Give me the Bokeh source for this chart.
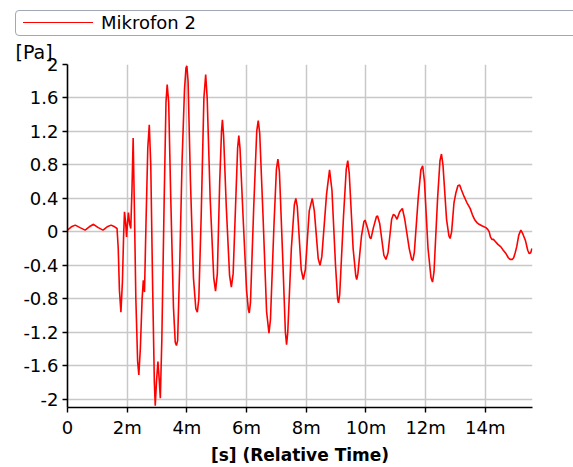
from bokeh.plotting import figure
from bokeh.layouts import column
from bokeh.models import (Range1d, FixedTicker, CustomJSTickFormatter, Div,
                          ColumnDataSource)
from bokeh.embed import file_html
from bokeh.resources import INLINE

# time in milliseconds (axis labels show "m" = milli-seconds)
time_ms = [
    0.00, 0.13, 0.26, 0.42, 0.59, 0.73, 0.87, 1.03, 1.19, 1.33, 1.46, 1.58, 1.66,
    1.70, 1.74, 1.79, 1.84, 1.88, 1.91, 1.95, 1.98, 2.01, 2.04, 2.08, 2.12, 2.16,
    2.20, 2.24, 2.29, 2.35, 2.39, 2.44, 2.50, 2.54, 2.58, 2.63, 2.69, 2.74, 2.79,
    2.85, 2.91, 2.94, 2.98, 3.03, 3.07, 3.11, 3.16, 3.24, 3.30, 3.34, 3.39, 3.46,
    3.55, 3.61, 3.65, 3.69, 3.76, 3.84, 3.92, 3.97, 4.00, 4.04, 4.12, 4.22, 4.30,
    4.35, 4.40, 4.48, 4.57, 4.63, 4.68, 4.78, 4.90, 4.96, 5.02, 5.10, 5.16, 5.19,
    5.23, 5.32, 5.43, 5.49, 5.55, 5.64, 5.70, 5.74, 5.78, 5.88, 6.00, 6.06, 6.09,
    6.13, 6.24, 6.34, 6.39, 6.44, 6.55, 6.67, 6.75, 6.80, 6.92, 7.00, 7.05, 7.10,
    7.21, 7.30, 7.34, 7.38, 7.50, 7.60, 7.65, 7.70, 7.83, 7.90, 7.97, 8.10, 8.20,
    8.27, 8.40, 8.46, 8.52, 8.68, 8.78, 8.86, 8.98, 9.05, 9.08, 9.12, 9.25, 9.34,
    9.39, 9.44, 9.57, 9.66, 9.69, 9.73, 9.85, 9.93, 9.97, 10.05, 10.13, 10.17,
    10.25, 10.35, 10.39, 10.46, 10.60, 10.67, 10.74, 10.86, 10.92, 10.98, 11.04,
    11.13, 11.22, 11.30, 11.45, 11.53, 11.57, 11.62, 11.75, 11.84, 11.90, 11.96,
    12.08, 12.18, 12.23, 12.28, 12.40, 12.48, 12.53, 12.58, 12.70, 12.78, 12.82,
    12.87, 12.95, 13.01, 13.08, 13.14, 13.20, 13.29, 13.38, 13.49, 13.57, 13.65,
    13.72, 13.79, 13.90, 14.02, 14.08, 14.13, 14.17, 14.22, 14.27, 14.32, 14.42,
    14.52, 14.60, 14.69, 14.77, 14.83, 14.90, 14.95, 15.00, 15.05, 15.12, 15.19,
    15.25, 15.34, 15.42, 15.47, 15.52, 15.56,
]
pressure_pa = [
    0.02, 0.06, 0.08, 0.05, 0.02, 0.06, 0.09, 0.05, 0.02, 0.06, 0.08, 0.06, 0.04,
    -0.20, -0.70, -0.96, -0.60, -0.05, 0.24, 0.10, -0.06, 0.10, 0.23, 0.10, 0.04, 0.50,
    1.12, 0.30, -0.80, -1.55, -1.71, -1.40, -0.80, -0.58, -0.72, 0.10, 1.00, 1.28, 0.80,
    -0.60, -1.80, -2.08, -1.80, -1.55, -1.75, -1.99, -1.30, 0.40, 1.55, 1.76, 1.55, 0.40,
    -0.90, -1.32, -1.36, -1.30, -0.40, 0.86, 1.70, 1.96, 1.98, 1.80, 0.60, -0.55, -0.92,
    -0.96, -0.80, 0.20, 1.60, 1.88, 1.60, 0.40, -0.55, -0.71, -0.50, 0.60, 1.20, 1.34,
    1.15, 0.30, -0.52, -0.66, -0.50, 0.40, 1.00, 1.15, 1.00, 0.20, -0.70, -0.93, -0.97,
    -0.85, 0.30, 1.20, 1.33, 1.18, 0.20, -0.95, -1.21, -1.05, 0.10, 0.75, 0.87, 0.72,
    -0.30, -1.20, -1.35, -1.20, -0.20, 0.32, 0.40, 0.30, -0.45, -0.57, -0.45, 0.25, 0.40,
    0.25, -0.32, -0.40, -0.30, 0.45, 0.74, 0.50, -0.40, -0.80, -0.85, -0.75, 0.20, 0.75,
    0.85, 0.70, -0.20, -0.53, -0.57, -0.50, -0.05, 0.12, 0.14, 0.05, -0.07, -0.08,
    0.05, 0.18, 0.19, 0.10, -0.28, -0.33, -0.25, 0.15, 0.21, 0.19, 0.15,
    0.24, 0.28, 0.15, -0.20, -0.33, -0.34, -0.25, 0.40, 0.74, 0.79, 0.60,
    -0.20, -0.55, -0.60, -0.48, 0.40, 0.85, 0.93, 0.80, 0.15, -0.05, -0.08,
    0.00, 0.35, 0.46, 0.55, 0.56, 0.50, 0.42, 0.35, 0.28, 0.20, 0.14,
    0.11, 0.09, 0.07, 0.05, 0.03, 0.00, -0.06, -0.09, -0.09, -0.11, -0.15,
    -0.18, -0.22, -0.26, -0.31, -0.33, -0.33, -0.31, -0.25, -0.18, -0.04, 0.02,
    -0.02, -0.10, -0.22, -0.26, -0.25, -0.20,
]

series_name = "Mikrofon 2"
series_color = "#ff0000"
x_title = "[s] (Relative Time)"
y_title = "[Pa]"
x_ticks = [0, 2, 4, 6, 8, 10, 12, 14]
x_tick_labels = ["0", "2m", "4m", "6m", "8m", "10m", "12m", "14m"]
y_ticks = [-2.0, -1.6, -1.2, -0.8, -0.4, 0.0, 0.4, 0.8, 1.2, 1.6, 2.0]
y_tick_labels = ["-2", "-1.6", "-1.2", "-0.8", "-0.4", "0", "0.4", "0.8", "1.2", "1.6", "2"]

FONT = "DejaVu Sans"
LEGEND_H = 37

src = ColumnDataSource(dict(t=time_ms, p=pressure_pa))

p = figure(width=573, height=467 - LEGEND_H, output_backend="svg", toolbar_location=None,
           x_range=Range1d(0, 15.58), y_range=Range1d(-2.1, 2.0),
           min_border_left=67, min_border_right=41, min_border_top=20,
           min_border_bottom=60, title=y_title)
p.outline_line_color = None
p.background_fill_color = "white"
p.border_fill_color = "white"

# y unit shown above the axis, left aligned
p.title.align = "left"
p.title.offset = -52
p.title.standoff = 3
p.title.text_font = FONT
p.title.text_font_size = "19px"
p.title.text_font_style = "normal"
p.title.text_color = "black"

p.line(x="t", y="p", source=src, line_color=series_color, line_width=1.6)

fmt_code = """
let best = 0;
for (let i = 0; i < tv.length; i++) {
  if (Math.abs(tv[i] - tick) < Math.abs(tv[best] - tick)) best = i;
}
return labs[best];
"""
p.xaxis.ticker = FixedTicker(ticks=x_ticks)
p.yaxis.ticker = FixedTicker(ticks=y_ticks)
p.xaxis.formatter = CustomJSTickFormatter(args=dict(tv=x_ticks, labs=x_tick_labels), code=fmt_code)
p.yaxis.formatter = CustomJSTickFormatter(args=dict(tv=y_ticks, labs=y_tick_labels), code=fmt_code)

for ax in (p.xaxis[0], p.yaxis[0]):
    ax.axis_line_color = "black"
    ax.axis_line_width = 1.6
    ax.major_tick_line_color = "black"
    ax.major_tick_line_width = 1.4
    ax.major_tick_in = 0
    ax.major_tick_out = 5
    ax.minor_tick_line_color = None
    ax.major_label_text_font = FONT
    ax.major_label_text_font_size = "18px"
    ax.major_label_text_color = "black"
    ax.major_label_standoff = 4

p.xaxis.axis_label = x_title
p.xaxis.axis_label_text_font = FONT
p.xaxis.axis_label_text_font_size = "17px"
p.xaxis.axis_label_text_font_style = "bold"
p.xaxis.axis_label_text_color = "black"
p.xaxis.axis_label_standoff = 4

p.xgrid.grid_line_color = "#c8c8c8"
p.ygrid.grid_line_color = "#c8c8c8"
p.xgrid.grid_line_width = 1.5
p.ygrid.grid_line_width = 1.5

# legend strip above the plot
legend_html = f"""
<div style="position:relative;width:573px;height:{LEGEND_H}px;overflow:hidden;background:white;">
  <div style="position:absolute;left:15px;top:10px;width:600px;height:26px;box-sizing:border-box;
              border:1px solid #a0a8b4;border-radius:4px;background:white;">
    <div style="position:absolute;left:7px;top:11px;width:70px;height:0;
                border-top:1.6px solid {series_color};"></div>
    <span style="position:absolute;left:85px;top:0;line-height:24px;font-family:'{FONT}';
                 font-size:18px;color:black;white-space:nowrap;">{series_name}</span>
  </div>
</div>
"""
legend_div = Div(text=legend_html, width=573, height=LEGEND_H, margin=(0, 0, 0, 0))

layout = column(legend_div, p, spacing=0)

open("out.html", "w").write(file_html(layout, INLINE))
